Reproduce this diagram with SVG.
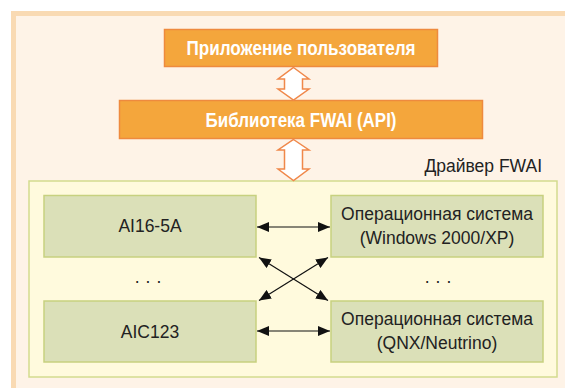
<svg xmlns="http://www.w3.org/2000/svg" width="565" height="388" viewBox="0 0 565 388">
<style>
.frame{fill:#fef3e7;stroke:#f9dab3;stroke-width:5}
.obox{fill:#f4a63c;stroke:#ee8a3e;stroke-width:1.5}
.harrow{fill:#ffffff;stroke:#f0884a;stroke-width:1.5;stroke-linejoin:miter}
.drv{fill:#fffadd;stroke:#d3db8e;stroke-width:1.5}
.gbox{fill:#dbe0b8;stroke:#c7d17f;stroke-width:1.5}
.tb{font-family:"Liberation Sans",Arial,sans-serif;font-weight:bold;font-size:20px;fill:#ffffff;text-anchor:middle}
.t{font-family:"Liberation Sans",Arial,sans-serif;font-size:17.5px;fill:#222222;text-anchor:middle}
.conn{stroke:#111111;stroke-width:1.2;fill:none;marker-start:url(#ah);marker-end:url(#ah)}
</style>
<defs>
<marker id="ah" viewBox="0 0 12 10" refX="12" refY="5" markerWidth="12" markerHeight="10" markerUnits="userSpaceOnUse" orient="auto-start-reverse">
<path d="M0,0 L12,5 L0,10 Z" fill="#111111"/>
</marker>
</defs>
<rect class="frame" x="13.5" y="13.5" width="560" height="385"/>
<g id="app">
<rect class="obox" x="164.5" y="29.5" width="273" height="37"/>
<text class="tb" x="301" y="55" textLength="229" lengthAdjust="spacingAndGlyphs">Приложение пользователя</text>
</g>
<g id="lib">
<rect class="obox" x="119.5" y="100.5" width="363" height="38"/>
<text class="tb" x="301" y="127" textLength="191" lengthAdjust="spacingAndGlyphs">Библиотека FWAI (API)</text>
</g>
<g id="driver">
<rect class="drv" x="29" y="181" width="528" height="196"/>
<text class="t" x="542" y="172" style="text-anchor:end">Драйвер FWAI</text>
</g>
<g id="ai16">
<rect class="gbox" x="44" y="195.5" width="212" height="61.5"/>
<text class="t" x="150" y="232">AI16-5A</text>
</g>
<g id="os1">
<rect class="gbox" x="331" y="195.5" width="212" height="61.5"/>
<text class="t" x="437" y="220">Операционная система</text>
<text class="t" x="437" y="244">(Windows 2000/XP)</text>
</g>
<g id="aic123">
<rect class="gbox" x="44" y="301" width="212" height="61"/>
<text class="t" x="150" y="338">AIC123</text>
</g>
<g id="os2">
<rect class="gbox" x="331" y="301" width="212" height="61"/>
<text class="t" x="437" y="325">Операционная система</text>
<text class="t" x="437" y="349">(QNX/Neutrino)</text>
</g>
<g id="dots">
<text class="t" x="151" y="283" style="letter-spacing:6px">...</text>
<text class="t" x="441" y="283" style="letter-spacing:6px">...</text>
</g>
<g id="connectors">
<path class="harrow" d="M293.5,67.5 L309,79 L302.5,79 L302.5,89 L309,89 L293.5,100 L278,89 L284.5,89 L284.5,79 L278,79 Z"/>
<path class="harrow" d="M293.5,139.5 L309,150 L302.5,150 L302.5,169 L309,169 L293.5,180.5 L278,169 L284.5,169 L284.5,150 L278,150 Z"/>
<line class="conn" x1="257" y1="227" x2="330" y2="227"/>
<line class="conn" x1="257" y1="331" x2="330" y2="331"/>
<line class="conn" x1="259" y1="257.5" x2="328" y2="300.5"/>
<line class="conn" x1="328" y1="257.5" x2="259" y2="300.5"/>
</g>
</svg>
